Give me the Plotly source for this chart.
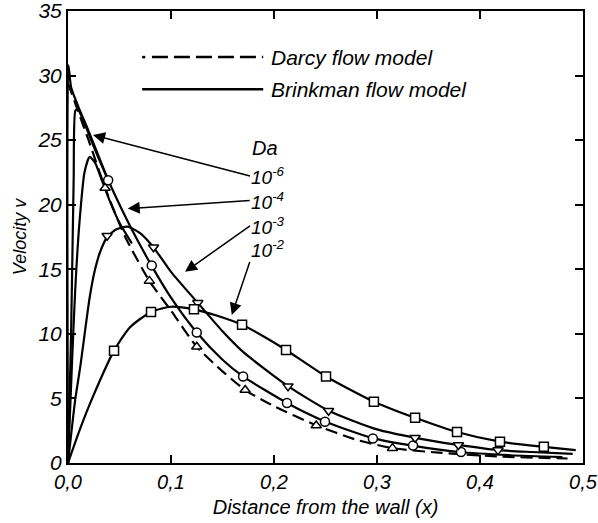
import plotly.graph_objects as go

# ---------------- data ----------------
# Darcy flow model (dashed)
darcy_x = [0.0, 0.01, 0.02, 0.036, 0.055, 0.079, 0.1, 0.125, 0.15, 0.172, 0.2, 0.24, 0.28, 0.315, 0.36, 0.42, 0.485]
darcy_v = [29.4, 27.2, 25.0, 21.3, 17.6, 14.1, 11.8, 9.0, 7.1, 5.65, 4.4, 2.95, 1.8, 1.15, 0.8, 0.5, 0.35]
darcy_mx = [0.036, 0.079, 0.125, 0.172, 0.241, 0.315]
darcy_mv = [21.3, 14.1, 9.0, 5.65, 2.9, 1.15]

# Brinkman, Da = 1e-6 (wall jump, merges into the 1e-4 curve)
b6_x = [0.0, 0.0004, 0.003, 0.01, 0.02, 0.03, 0.039]
b6_v = [0.0, 30.8, 29.1, 27.6, 25.7, 23.7, 21.9]

# Brinkman, Da = 1e-4 (circles)
b4_x = [0.0, 0.003, 0.0055, 0.0072, 0.0095, 0.015, 0.025, 0.039, 0.06, 0.081, 0.1, 0.125, 0.15, 0.17,
        0.2126, 0.25, 0.295, 0.334, 0.38, 0.43, 0.48]
b4_v = [0.0, 10.0, 22.0, 27.3, 27.4, 26.5, 24.5, 21.9, 18.4, 15.3, 12.8, 10.1, 8.0, 6.7,
        4.65, 3.2, 1.95, 1.35, 0.85, 0.6, 0.45]
b4_mx = [0.039, 0.0813, 0.125, 0.170, 0.2126, 0.2495, 0.296, 0.335, 0.3816]
b4_mv = [21.9, 15.3, 10.1, 6.7, 4.65, 3.2, 1.9, 1.35, 0.85]

# Brinkman, intermediate curve (peak near 0.02, no markers)
b5_x = [0.0, 0.004, 0.007, 0.011, 0.016, 0.021, 0.026, 0.031, 0.04, 0.05, 0.062]
b5_v = [0.0, 8.0, 13.4, 18.5, 22.5, 23.7, 23.3, 22.3, 20.4, 18.6, 17.0]

# Brinkman, Da = 1e-3 (down triangles)
b3_x = [0.0, 0.007, 0.012, 0.017, 0.021, 0.026, 0.031, 0.038, 0.047, 0.058, 0.07, 0.083, 0.1, 0.126,
        0.15, 0.17, 0.2136, 0.253, 0.3, 0.337, 0.379, 0.4175, 0.45, 0.49]
b3_v = [0.0, 4.9, 7.5, 10.5, 12.8, 14.9, 16.3, 17.5, 18.1, 18.3, 17.8, 16.7, 14.8, 12.4,
        10.2, 8.6, 5.95, 4.05, 2.6, 1.95, 1.4, 1.0, 0.85, 0.7]
b3_mx = [0.038, 0.083, 0.126, 0.2136, 0.253, 0.337, 0.379, 0.4175]
b3_mv = [17.6, 16.7, 12.4, 5.95, 4.05, 1.95, 1.4, 1.0]

# Brinkman, Da = 1e-2 (squares)
b2_x = [0.0, 0.012, 0.024, 0.0447, 0.06, 0.0806, 0.1, 0.1223, 0.145, 0.169, 0.19, 0.2117, 0.2505,
        0.297, 0.337, 0.3777, 0.4194, 0.462, 0.493]
b2_v = [0.0, 2.7, 5.1, 8.7, 10.5, 11.7, 12.1, 11.9, 11.4, 10.7, 9.8, 8.75, 6.7,
        4.75, 3.5, 2.4, 1.65, 1.25, 1.0]
b2_mx = [0.0447, 0.0806, 0.1223, 0.169, 0.2117, 0.2505, 0.297, 0.337, 0.3777, 0.4194, 0.462]
b2_mv = [8.7, 11.7, 11.9, 10.7, 8.75, 6.7, 4.75, 3.5, 2.4, 1.65, 1.25]

x_ticks = [0.0, 0.1, 0.2, 0.3, 0.4, 0.5]
x_tick_text = ["0,0", "0,1", "0,2", "0,3", "0,4", "0,5"]
y_ticks = [0, 5, 10, 15, 20, 25, 30, 35]

da_labels = ["10<sup>-6</sup>", "10<sup>-4</sup>", "10<sup>-3</sup>", "10<sup>-2</sup>"]
# arrow tips (data coords) for each Da label
arrow_tip_x = [0.0243, 0.058, 0.1136, 0.159]
arrow_tip_v = [25.4, 19.7, 14.8, 11.46]

# ---------------- figure ----------------
FONT = "Liberation Sans, Arial, sans-serif"
LW = 2.2
fig = go.Figure()

def line(x, y, dash="solid"):
    fig.add_trace(go.Scatter(x=x, y=y, mode="lines", line=dict(color="black", width=LW, dash=dash,
                                                                 shape="spline", smoothing=0.6),
                             showlegend=False, hoverinfo="skip"))

def marks(x, y, symbol):
    fig.add_trace(go.Scatter(x=x, y=y, mode="markers",
                             marker=dict(symbol=symbol, size=9, color="white",
                                         line=dict(color="black", width=1.5)),
                             showlegend=False, hoverinfo="skip"))

line(darcy_x, darcy_v, dash="12px,6px")
line(b6_x, b6_v)
line(b4_x, b4_v)
line(b5_x, b5_v)
line(b3_x, b3_v)
line(b2_x, b2_v)
marks(darcy_mx, darcy_mv, "triangle-up")
marks(b4_mx, b4_mv, "circle")
marks(b3_mx, b3_mv, "triangle-down")
marks(b2_mx, b2_mv, "square")

# legend (drawn manually to match the long sample lines)
fig.add_shape(type="line", xref="paper", yref="paper", x0=0.144, x1=0.150, y0=0.898, y1=0.898,
              line=dict(color="black", width=2.5))
fig.add_shape(type="line", xref="paper", yref="paper", x0=0.163, x1=0.379, y0=0.898, y1=0.898,
              line=dict(color="black", width=2.5, dash="16px,6px"))
fig.add_shape(type="line", xref="paper", yref="paper", x0=0.144, x1=0.379, y0=0.827, y1=0.827,
              line=dict(color="black", width=2.5))
fig.add_annotation(xref="paper", yref="paper", x=0.390, y=0.898, text="Darcy flow model",
                   showarrow=False, xanchor="left", yanchor="middle",
                   font=dict(size=21, family=FONT, style="italic", color="black"))
fig.add_annotation(xref="paper", yref="paper", x=0.390, y=0.827, text="Brinkman flow model",
                   showarrow=False, xanchor="left", yanchor="middle",
                   font=dict(size=21, family=FONT, style="italic", color="black"))

# Da heading
fig.add_annotation(xref="paper", yref="paper", x=0.354, y=0.697, text="Da", showarrow=False,
                   xanchor="left", yanchor="middle",
                   font=dict(size=20, family=FONT, style="italic", color="black"))

# Da labels with arrows pointing at their curves
arrow_ax = [157, 122, 65, 18]
arrow_ay = [41, -8, -46, -53]
label_yanchor = ["middle", "middle", "middle", "bottom"]
for txt, tx, tv, ax, ay, ya in zip(da_labels, arrow_tip_x, arrow_tip_v, arrow_ax, arrow_ay, label_yanchor):
    fig.add_annotation(x=tx, y=tv, xref="x", yref="y", text=txt, showarrow=True,
                       ax=ax, ay=ay, xanchor="left", yanchor=ya,
                       arrowhead=2, arrowsize=1.6, arrowwidth=1.5,
                       arrowcolor="black", standoff=0, borderpad=0,
                       font=dict(size=19, family=FONT, style="italic", color="black"))

fig.update_layout(
    width=598, height=523,
    margin=dict(l=68, r=15, t=11, b=60),
    paper_bgcolor="white", plot_bgcolor="white",
    separators=",.",
    font=dict(family=FONT, color="black", size=20, style="italic"),
    showlegend=False,
)
fig.update_xaxes(range=[0, 0.5], tickvals=x_ticks, ticktext=x_tick_text, automargin=False,
                 ticklabeloverflow="allow",
                 showline=True, linecolor="black", linewidth=2, mirror="ticks",
                 ticks="inside", ticklen=8, tickwidth=1.5, tickcolor="black",
                 showgrid=False, zeroline=False,
                 tickfont=dict(size=20, family=FONT, style="italic"),
                 title=dict(text="Distance from the wall (x)", standoff=8,
                            font=dict(size=20, family=FONT, style="italic")))
fig.update_yaxes(range=[0, 35], tickvals=y_ticks, automargin=False,
                 ticklabeloverflow="allow",
                 showline=True, linecolor="black", linewidth=2, mirror="ticks",
                 ticks="inside", ticklen=8, tickwidth=1.5, tickcolor="black",
                 showgrid=False, zeroline=False,
                 tickfont=dict(size=21, family=FONT, style="italic"),
                 title=dict(text="Velocity v", standoff=6,
                            font=dict(size=18, family=FONT, style="italic")))

fig.write_html("out.html", config={"displayModeBar": False},
               post_script="document.body.style.margin='0';")
